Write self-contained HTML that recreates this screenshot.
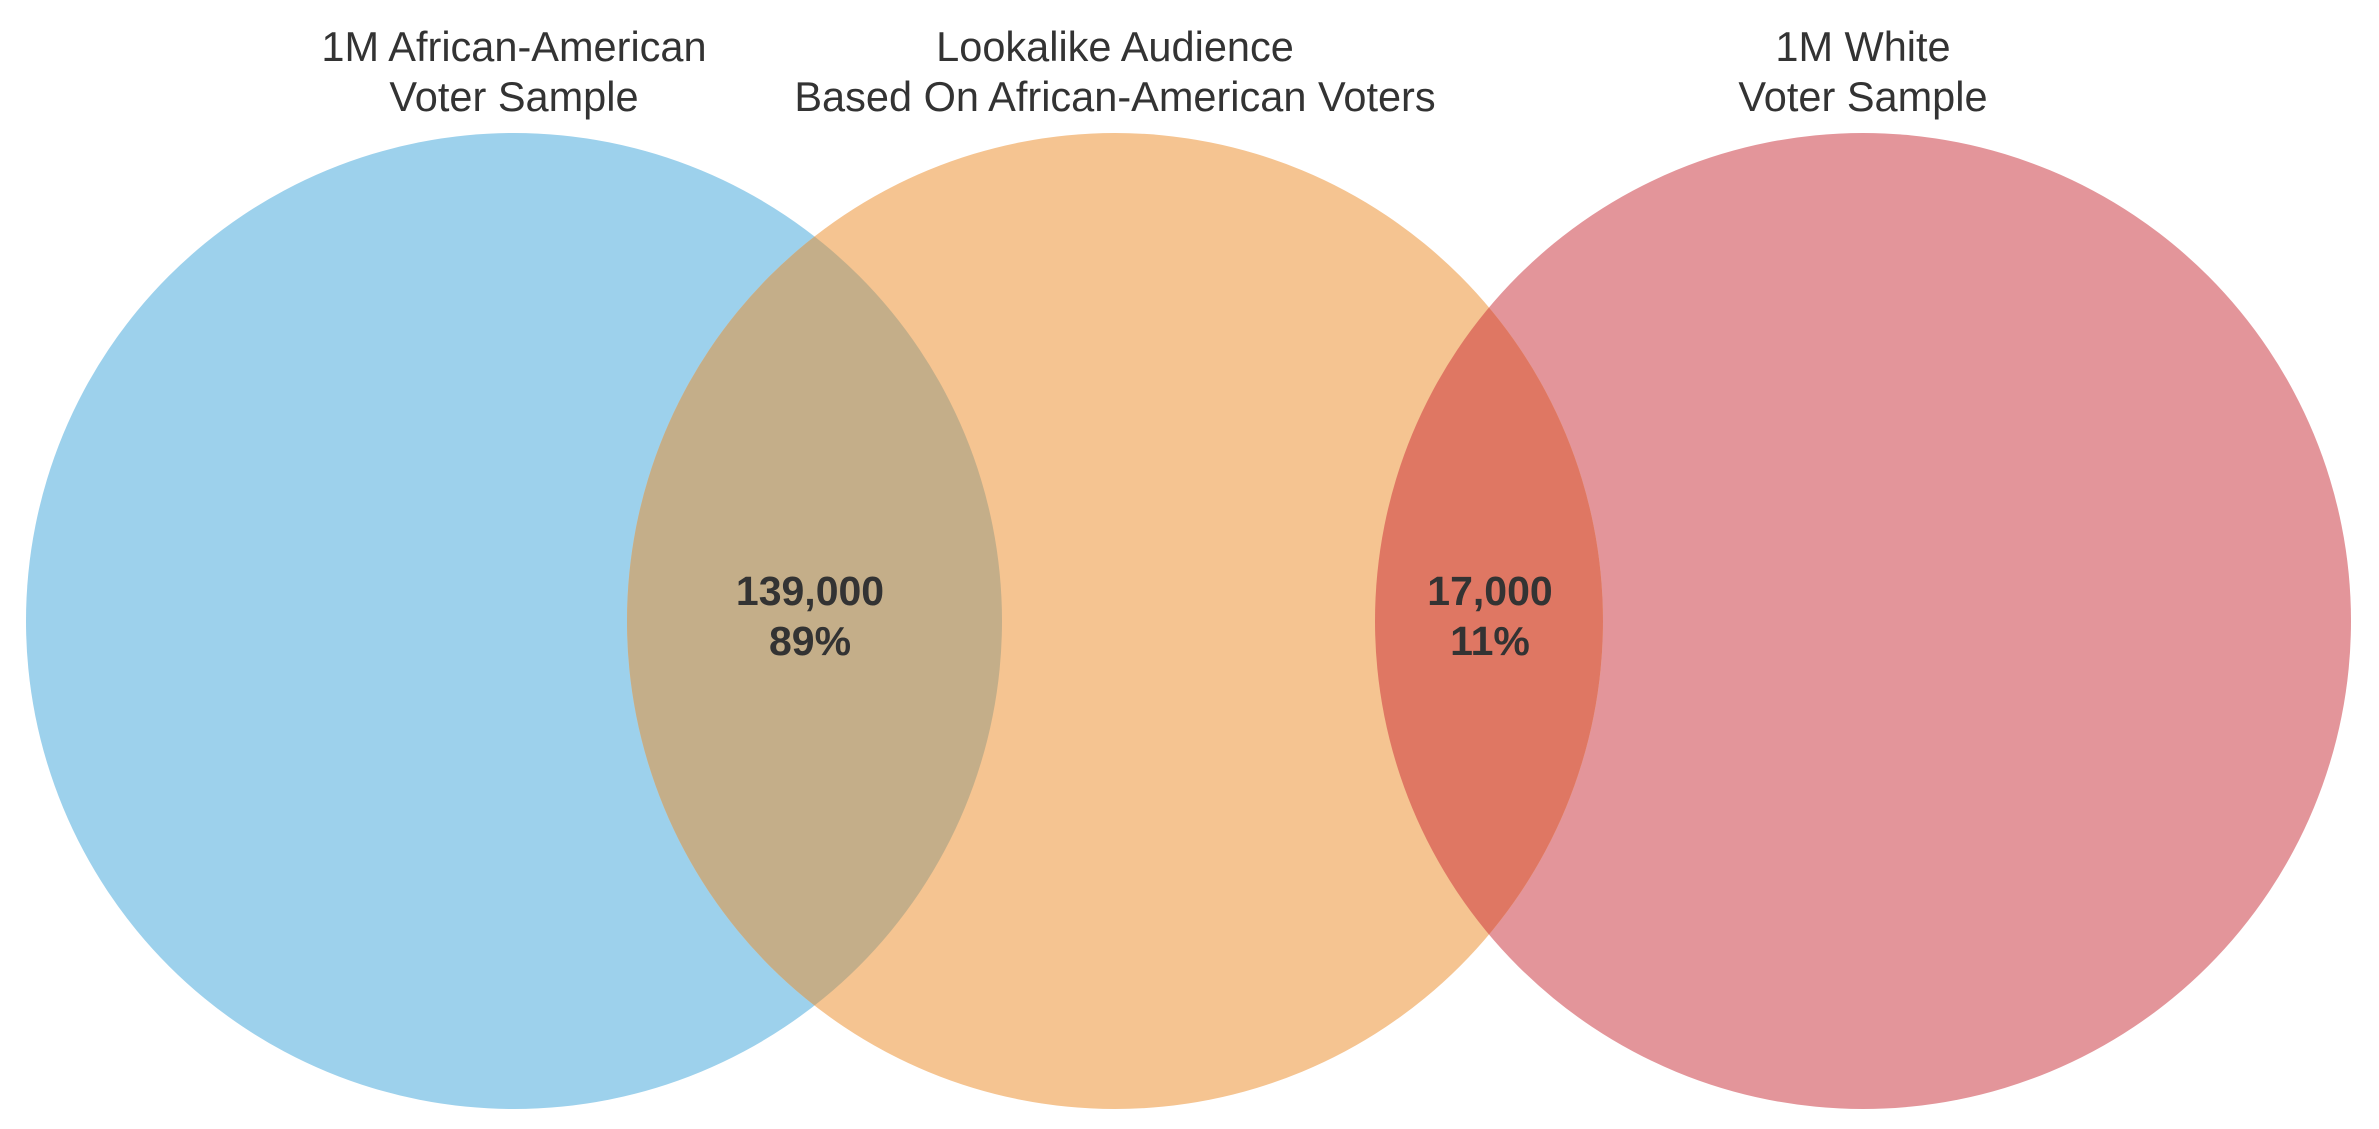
<!DOCTYPE html>
<html><head><meta charset="utf-8"><style>
html,body{margin:0;padding:0;background:#fff;}
svg{display:block;}
</style></head><body>
<svg width="2379" height="1129" viewBox="0 0 2379 1129" xmlns="http://www.w3.org/2000/svg">
<defs>
<clipPath id="cA"><circle cx="514" cy="621" r="488"/></clipPath>
<clipPath id="cC"><circle cx="1863" cy="621" r="488"/></clipPath>
</defs>
<circle cx="514" cy="621" r="488" fill="#9DD1EC"/>
<circle cx="1863" cy="621" r="488" fill="#E3959A"/>
<circle cx="1115" cy="621" r="488" fill="#F5C491"/>
<circle cx="1115" cy="621" r="488" fill="#C4AE89" clip-path="url(#cA)"/>
<circle cx="1115" cy="621" r="488" fill="#DF7763" clip-path="url(#cC)"/>
<g font-family="Liberation Sans, sans-serif" font-size="41.5" fill="#333" text-anchor="middle">
<text x="514" y="61">1M African-American</text>
<text x="514" y="111">Voter Sample</text>
<text x="1115" y="61">Lookalike Audience</text>
<text x="1115" y="111">Based On African-American Voters</text>
<text x="1863" y="61">1M White</text>
<text x="1863" y="111">Voter Sample</text>
</g>
<g font-family="Liberation Sans, sans-serif" font-size="41" font-weight="bold" fill="#333" text-anchor="middle">
<text x="810" y="605">139,000</text>
<text x="810" y="655">89%</text>
<text x="1490" y="605">17,000</text>
<text x="1490" y="655">11%</text>
</g>
</svg>
</body></html>
